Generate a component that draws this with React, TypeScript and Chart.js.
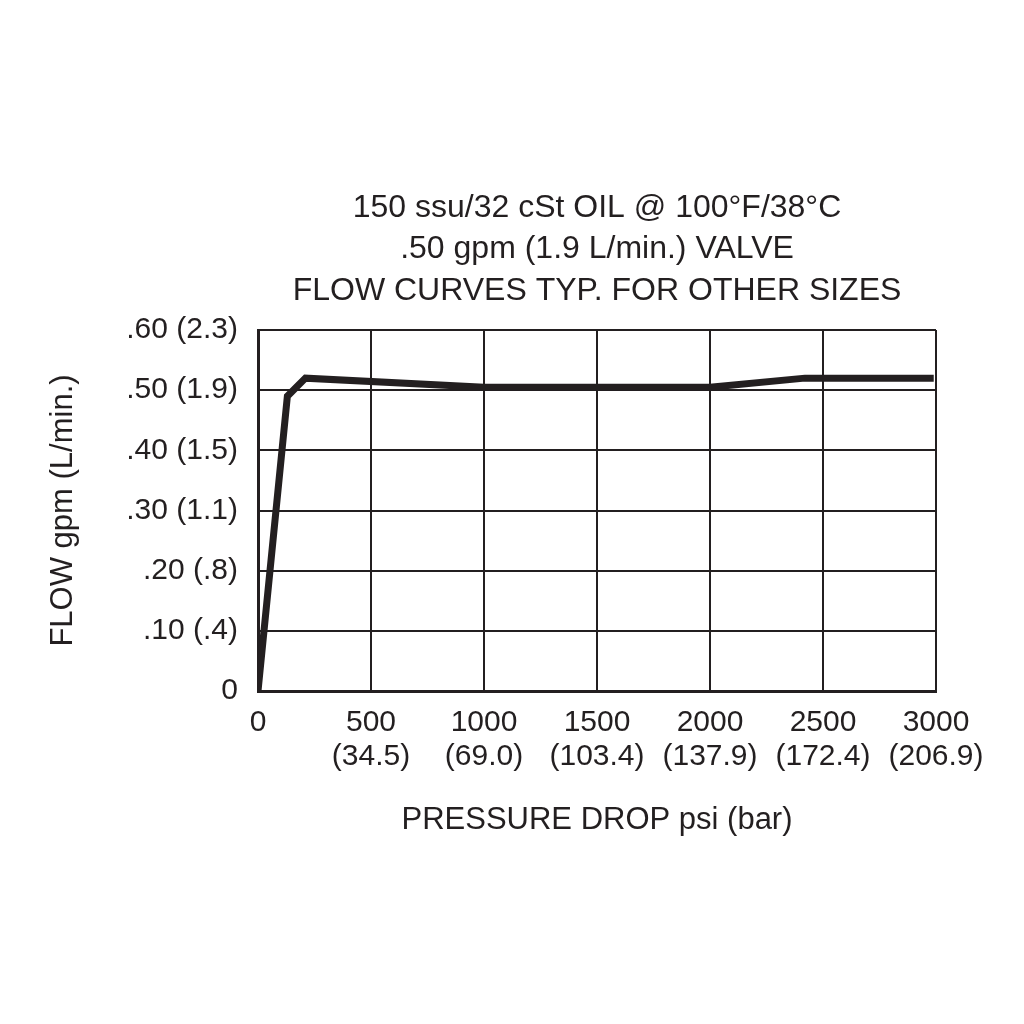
import React, { useEffect, useRef } from "react";
import { Chart, registerables } from "chart.js";

Chart.register(...registerables);

const pressurePsi = [0, 130, 210, 1000, 2000, 2420, 2990];
const flowGpm = [0, 0.49, 0.52, 0.505, 0.505, 0.52, 0.52];

const yTickValues = [0, 0.1, 0.2, 0.3, 0.4, 0.5, 0.6];
const yTickLabels = ["0", ".10 (.4)", ".20 (.8)", ".30 (1.1)", ".40 (1.5)", ".50 (1.9)", ".60 (2.3)"];
const xTickValues = [0, 500, 1000, 1500, 2000, 2500, 3000];
const xTickLabels: (string | string[])[] = [
  "0",
  ["500", "(34.5)"],
  ["1000", "(69.0)"],
  ["1500", "(103.4)"],
  ["2000", "(137.9)"],
  ["2500", "(172.4)"],
  ["3000", "(206.9)"],
];
const titleLines = [
  "150 ssu/32 cSt OIL @ 100°F/38°C",
  ".50 gpm (1.9 L/min.) VALVE",
  "FLOW CURVES TYP. FOR OTHER SIZES",
];

const INK = "#231f20";
const FONT = "'Liberation Sans', Arial, Helvetica, sans-serif";

const centeredTitle = {
  id: "centeredTitle",
  afterDraw(chart: any) {
    const { ctx, chartArea } = chart;
    const cx = (chartArea.left + chartArea.right) / 2;
    ctx.save();
    ctx.fillStyle = INK;
    ctx.font = `32px ${FONT}`;
    ctx.textAlign = "center";
    ctx.textBaseline = "middle";
    const n = titleLines.length;
    titleLines.forEach((line, i) => {
      const y = chartArea.top - 39 - (n - 1 - i) * 41.5;
      ctx.fillText(line, cx, y);
    });
    ctx.restore();
  },
};

export default function App() {
  const ref = useRef<HTMLCanvasElement | null>(null);
  useEffect(() => {
    if (!ref.current) return;
    const chart = new Chart(ref.current, {
      type: "line",
      data: {
        datasets: [
          {
            data: pressurePsi.map((x, i) => ({ x, y: flowGpm[i] })),
            borderColor: INK,
            borderWidth: 7,
            pointRadius: 0,
            tension: 0,
            fill: false,
            borderJoinStyle: "miter",
          },
        ],
      },
      options: {
        animation: false,
        responsive: false,
        maintainAspectRatio: false,
        layout: { padding: { top: 330, left: 40, right: 88, bottom: 180 } },
        plugins: {
          legend: { display: false },
          tooltip: { enabled: false },
          title: { display: false },
        },
        scales: {
          x: {
            type: "linear",
            min: 0,
            max: 3000,
            afterBuildTicks: (s: any) => {
              s.ticks = xTickValues.map((v) => ({ value: v }));
            },
            afterFit: (s: any) => {
              s.height = 153;
            },
            ticks: {
              color: INK,
              font: { family: FONT, size: 30, lineHeight: 1.15 },
              padding: 14,
              maxRotation: 0,
              autoSkip: false,
              callback: (v: any) => {
                const i = xTickValues.indexOf(Number(v));
                return i >= 0 ? xTickLabels[i] : "";
              },
            },
            grid: { color: INK, lineWidth: 2, drawTicks: false },
            border: { color: INK, width: 3 },
            title: {
              display: true,
              text: "PRESSURE DROP psi (bar)",
              color: INK,
              font: { family: FONT, size: 31, lineHeight: 1.2 },
              padding: { top: 0, bottom: 5 },
            },
          },
          y: {
            type: "linear",
            min: 0,
            max: 0.6,
            afterBuildTicks: (s: any) => {
              s.ticks = yTickValues.map((v) => ({ value: v }));
            },
            afterFit: (s: any) => {
              s.width = 218;
            },
            ticks: {
              color: INK,
              font: { family: FONT, size: 30, lineHeight: 1.2 },
              padding: 20,
              autoSkip: false,
              callback: (v: any) => {
                const i = yTickValues.findIndex((t) => Math.abs(t - Number(v)) < 1e-6);
                return i >= 0 ? yTickLabels[i] : "";
              },
            },
            grid: { color: INK, lineWidth: 2, drawTicks: false },
            border: { color: INK, width: 3 },
            title: {
              display: true,
              text: "FLOW gpm (L/min.)",
              color: INK,
              font: { family: FONT, size: 31, lineHeight: 1.2 },
              padding: { top: 5, bottom: 0 },
            },
          },
        },
      },
      plugins: [centeredTitle],
    });
    return () => chart.destroy();
  }, []);
  return (
    <div style={{ position: "fixed", left: 0, top: 0, width: 1024, height: 1024, background: "#fff" }}>
      <canvas ref={ref} width={1024} height={1024} style={{ width: 1024, height: 1024 }} />
    </div>
  );
}
